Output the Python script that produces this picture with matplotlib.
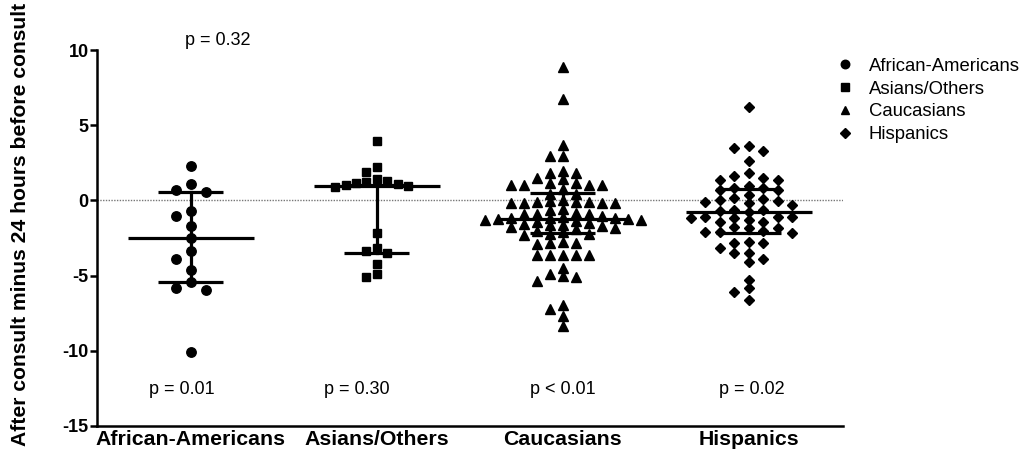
import numpy as np
import matplotlib.pyplot as plt

plt.rcParams['font.family'] = ['Liberation Sans', 'DejaVu Sans']
plt.rcParams['axes.unicode_minus'] = False

# ---- data ----
groups = ["African-Americans", "Asians/Others", "Caucasians", "Hispanics"]

african_americans = [2.31, 1.09, 0.69, 0.58, -0.68, -1.04, -1.68, -2.48, -3.36,
                     -3.92, -4.63, -5.40, -5.85, -5.96, -10.1]

asians_others = [3.97, 2.20, 1.87, 1.40, 1.32, 1.25, 1.18, 1.10, 1.02, 0.95, 0.90,
                 -2.19, -3.19, -3.36, -3.52, -4.25, -4.89, -5.11]

caucasians = [8.9, 6.75, 3.7, 2.95, 2.95,
              1.95, 1.80, 1.80, 1.47, 1.40, 1.18, 1.14, 1.02, 1.02, 1.02, 1.02,
              0.74, 0.45, 0.42,
              0.0, -0.05, -0.1, -0.1, -0.1, -0.15, -0.15, -0.2, -0.2,
              -0.59, -0.64, -0.85, -0.87, -0.87, -0.9,
              -1.05, -1.10, -1.15, -1.20, -1.20, -1.25, -1.25, -1.30, -1.30, -1.35,
              -1.45, -1.50, -1.55, -1.60, -1.65, -1.70, -1.75, -1.80,
              -1.90, -2.00, -2.10, -2.20, -2.20, -2.30,
              -2.74, -2.81, -2.81, -2.90, -3.63, -3.63, -3.63, -3.63, -3.63,
              -4.52, -4.89, -5.03, -5.07, -5.36, -6.95, -7.2, -7.7, -8.35]

hispanics = [6.2, 3.64, 3.46, 3.28, 2.62, 1.80, 1.64, 1.47, 1.36, 1.36,
             0.98, 0.85, 0.85, 0.69, 0.69, 0.36, 0.14, 0.09, 0.03, -0.04,
             -0.13, -0.19, -0.30, -0.62, -0.64, -0.70, -0.75, -1.08, -1.08, -1.08,
             -1.15, -1.19, -1.30, -1.41, -1.41, -1.75, -1.86, -1.86, -2.01, -2.08,
             -2.08, -2.15, -2.74, -2.81, -2.85, -3.19, -3.48, -3.52, -3.92, -4.07,
             -5.29, -5.85, -6.07, -6.62]

# median and interquartile range
medians = [-2.48, 0.96, -1.24, -0.79]
q1 = [-5.40, -3.47, -2.19, -2.15]
q3 = [0.58, 1.02, 0.50, 0.74]

p_bottom = ["p = 0.01", "p = 0.30", "p < 0.01", "p = 0.02"]
p_top = "p = 0.32"

values = [african_americans, asians_others, caucasians, hispanics]
markers = ['o', 's', '^', 'D']
msizes = [6.8, 6.0, 6.8, 5.4]
steps = [0.082, 0.056, 0.07, 0.078]
gaps = [0.6, 0.6, 0.5, 0.55]
p_x = [-0.048, 0.894, 1.998, 3.016]


def swarm_offsets(vals, step, dy):
    # slot based layout like a scatter dot plot: centre first, then left/right
    vals = np.asarray(vals, dtype=float)
    order = np.argsort(-vals, kind='stable')
    placed = []
    offs = np.zeros(len(vals))
    for i in order:
        y = vals[i]
        for k in range(60):
            slot = 0 if k == 0 else ((k + 1) // 2) * (-1 if k % 2 else 1)
            if all(not (s == slot and abs(py - y) < dy) for s, py in placed):
                break
        placed.append((slot, y))
        offs[i] = slot * step
    return offs


fig = plt.figure(figsize=(10.26, 4.59), dpi=100)
ax = fig.add_axes([0.0945, 0.0719, 0.727, 0.819])

ax.axhline(0, color='#777777', lw=1.0, ls=(0, (1, 1)), zorder=1)

handles = []
for i, (vals, m, ms, st) in enumerate(zip(values, markers, msizes, steps)):
    offs = swarm_offsets(vals, st, gaps[i])
    h, = ax.plot(i + offs, vals, ls='none', marker=m, ms=ms, color='black',
                 mec='black', zorder=2, label=groups[i])
    handles.append(h)
    # median line + IQR bars
    ax.plot([i - 0.34, i + 0.34], [medians[i], medians[i]], color='black', lw=2.3,
            zorder=3, solid_capstyle='butt')
    for q in (q1[i], q3[i]):
        ax.plot([i - 0.175, i + 0.175], [q, q], color='black', lw=2.3, zorder=3,
                solid_capstyle='butt')
    ax.plot([i, i], [q1[i], q3[i]], color='black', lw=2.3, zorder=3)
    ax.text(p_x[i], -12.6, p_bottom[i], ha='center', va='center', fontsize=13)

ax.text(0.145, 10.66, p_top, ha='center', va='center', fontsize=13, clip_on=False)

ax.set_xlim(-0.505, 3.505)
ax.set_ylim(-15, 10)
ax.set_yticks([-15, -10, -5, 0, 5, 10])
ax.set_xticks(range(4))
ax.set_xticklabels(groups, fontsize=15.3, fontweight='bold')
for lab in ax.get_yticklabels():
    lab.set_fontweight('bold')
ax.tick_params(axis='y', labelsize=13, width=1.8, length=5, pad=1)
ax.tick_params(axis='x', length=0, pad=3)
ax.set_ylabel("After consult minus 24 hours before consult", fontsize=15.2,
              fontweight='bold')
ax.yaxis.set_label_coords(-0.09, 0.537)
for side in ('top', 'right'):
    ax.spines[side].set_visible(False)
for side in ('left', 'bottom'):
    ax.spines[side].set_linewidth(1.8)

ax.legend(handles=handles, loc='upper left', bbox_to_anchor=(0.98, 0.999),
          frameon=False, fontsize=13.3, handlelength=1.0, handletextpad=0.8,
          labelspacing=0.31, borderaxespad=0, markerscale=0.9)

fig.savefig('out.png', dpi=100)
